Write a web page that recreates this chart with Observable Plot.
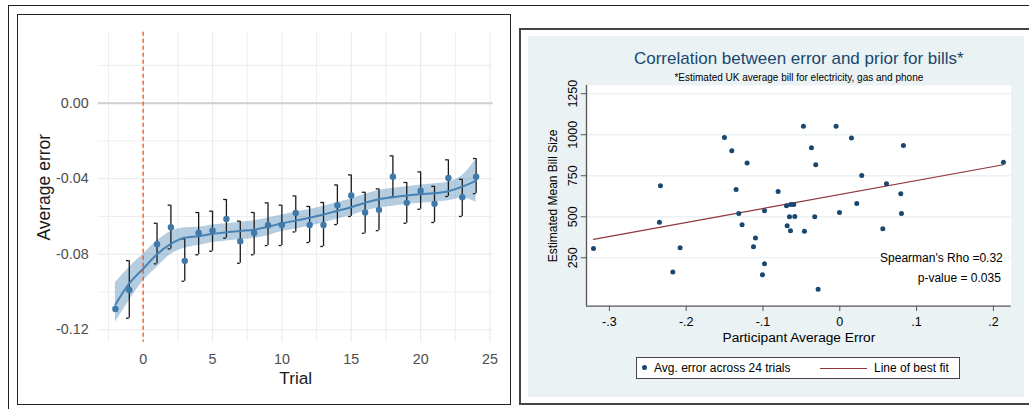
<!DOCTYPE html>
<html><head><meta charset="utf-8">
<script src="https://cdn.jsdelivr.net/npm/d3@7"></script>
<script src="https://cdn.jsdelivr.net/npm/@observablehq/plot@0.6"></script>
<style>
html,body{margin:0;padding:0;background:#fff;}
body{width:1029px;height:409px;position:relative;overflow:hidden;font-family:"Liberation Sans",Arial,sans-serif;}
.abs{position:absolute;box-sizing:border-box;}
#leftChart{left:0;top:0;}
#rightChart{left:528px;top:36px;}
#frameTop{left:8px;top:5px;width:1021px;height:1px;background:#222;}
#frameLeft{left:8px;top:5px;width:1px;height:404px;background:#222;}
#leftBox{left:17px;top:14px;width:494px;height:391px;border:1px solid #222;}
#rightBox{left:519px;top:28px;width:540px;height:377px;border:2px solid #444;}
#legend{left:636px;top:357px;width:324px;height:22px;border:1px solid #444;background:#fff;font-size:12px;color:#000;}
#legend .ldot{position:absolute;left:5px;top:7px;width:5px;height:5px;border-radius:50%;background:#1a476f;}
#legend .lt1{position:absolute;left:17px;top:0;line-height:20px;white-space:nowrap;}
#legend .lline{position:absolute;left:183px;top:10px;width:47px;height:1.2px;background:#90353b;}
#legend .lt2{position:absolute;left:237px;top:0;line-height:20px;white-space:nowrap;}
</style>
</head><body>
<div id="leftChart" class="abs"></div>
<div id="rightChart" class="abs"></div>
<div id="frameTop" class="abs"></div>
<div id="frameLeft" class="abs"></div>
<div id="leftBox" class="abs"></div>
<div id="rightBox" class="abs"></div>
<div id="legend" class="abs"><span class="ldot"></span><span class="lt1"></span><span class="lline"></span><span class="lt2"></span></div>
<script>
// ---------- Left chart data ----------
const trials = [-2,-1,1,2,3,4,5,6,7,8,9,10,11,12,13,14,15,16,17,18,19,20,21,22,23,24];
const meanError = [-0.1090,-0.0989,-0.0747,-0.0657,-0.0835,-0.0687,-0.0675,-0.0613,-0.0731,-0.0687,-0.0646,-0.0645,-0.0581,-0.0645,-0.0645,-0.0540,-0.0489,-0.0579,-0.0565,-0.0389,-0.0528,-0.0464,-0.0533,-0.0396,-0.0498,-0.0389];
const errLow  = [null,-0.1139,-0.0851,-0.0772,-0.0943,-0.0803,-0.0784,-0.0715,-0.0848,-0.0803,-0.0754,-0.0754,-0.0682,-0.0738,-0.0759,-0.0643,-0.0600,-0.0689,-0.0675,-0.0498,-0.0636,-0.0562,-0.0632,-0.0494,-0.0600,-0.0479];
const errHigh = [null,-0.0834,-0.0636,-0.0540,-0.0719,-0.0579,-0.0572,-0.0510,-0.0625,-0.0579,-0.0528,-0.0540,-0.0491,-0.0547,-0.0526,-0.0433,-0.0380,-0.0472,-0.0454,-0.0279,-0.0420,-0.0364,-0.0440,-0.0300,-0.0403,-0.0293];
const smoothT = [-2,-1,0,1,2,3,4,5,6,7,8,9,10,11,12,13,14,15,16,17,18,19,20,21,22,23,24];
const smoothMid = [-0.1067,-0.0955,-0.0877,-0.0800,-0.0745,-0.0713,-0.0705,-0.0692,-0.0684,-0.0677,-0.0670,-0.0655,-0.0636,-0.0622,-0.0607,-0.0590,-0.0570,-0.0551,-0.0527,-0.0509,-0.0498,-0.0489,-0.0482,-0.0477,-0.0466,-0.0442,-0.0410];
const smoothLo  = [-0.1160,-0.1045,-0.0942,-0.0869,-0.0800,-0.0768,-0.0754,-0.0738,-0.0730,-0.0724,-0.0717,-0.0702,-0.0680,-0.0666,-0.0652,-0.0634,-0.0614,-0.0595,-0.0571,-0.0555,-0.0546,-0.0537,-0.0530,-0.0525,-0.0517,-0.0502,-0.0525];
const smoothHi  = [-0.0950,-0.0870,-0.0800,-0.0730,-0.0680,-0.0660,-0.0657,-0.0645,-0.0638,-0.0630,-0.0623,-0.0608,-0.0592,-0.0577,-0.0563,-0.0546,-0.0526,-0.0507,-0.0483,-0.0463,-0.0450,-0.0442,-0.0434,-0.0427,-0.0417,-0.0383,-0.0295];
const leftXTicks = [0,5,10,15,20,25];
const leftXMinor = [-2.5,2.5,7.5,12.5,17.5,22.5];
const leftYTicks = [-0.12,-0.08,-0.04,0];
const leftYLabels = ["-0.12","-0.08","-0.04","0.00"];
const leftYMinor = [-0.10,-0.06,-0.02,0.02];
const leftXTitle = "Trial";
const leftYTitle = "Average error";

// ---------- Right chart data ----------
const errX = [-0.3207,-0.2335,-0.2348,-0.2174,-0.2079,-0.1502,-0.1406,-0.1207,-0.1350,-0.1315,-0.1272,-0.1098,-0.1124,-0.0981,-0.0981,-0.1007,-0.0803,-0.0694,-0.0638,-0.0599,-0.0655,-0.0586,-0.0685,-0.0642,-0.0473,-0.0460,-0.0369,-0.0313,-0.0326,-0.0282,-0.0048,-0.0004,0.0152,0.0221,0.0286,0.0560,0.0608,0.0794,0.0803,0.0829,0.2131];
const billY = [307,689,467,164,311,983,902,827,666,520,451,370,317,536,213,146,654,567,575,575,500,502,445,415,1051,412,921,817,500,59,1051,526,980,581,752,427,701,640,520,935,833];
const fitX = [-0.3207, 0.2131];
const fitY = [362, 817];
const rightXTicks = [-0.3,-0.2,-0.1,0,0.1,0.2];
const rightXLabels = ["-.3","-.2","-.1","0",".1",".2"];
const rightYTicks = [250,500,750,1000,1250];
const rightYLabels = ["250","500","750","1000","1250"];
const rightTitle = "Correlation between error and prior for bills*";
const rightSubtitle = "*Estimated UK average bill for electricity, gas and phone";
const rightXTitle = "Participant Average Error";
const rightYTitle = "Estimated Mean Bill Size";
const statLines = ["Spearman's Rho =0.32", "p-value = 0.035"];
const legendLabels = ["Avg. error across 24 trials", "Line of best fit"];

const FONT = "Liberation Sans, Arial, sans-serif";

// ---------- Build left ----------
const pts = trials.map((t,i)=>({t, m: meanError[i], lo: errLow[i], hi: errHigh[i]}));
const bars = pts.filter(d=>d.lo!=null);
const smooth = smoothT.map((t,i)=>({t, mid: smoothMid[i], lo: smoothLo[i], hi: smoothHi[i]}));
const LX = [-3.24, 25.23], LY = [-0.1266, 0.0376];

const left = Plot.plot({
  width: 520, height: 409,
  marginLeft: 97.7, marginRight: 27.3, marginTop: 31.7, marginBottom: 67.3,
  style: {background: "transparent", fontFamily: FONT, overflow: "visible"},
  x: {domain: LX},
  y: {domain: LY},
  marks: [
    Plot.ruleX(leftXMinor, {stroke: "#eeeeee", strokeWidth: 1}),
    Plot.ruleX(leftXTicks, {stroke: "#ebebeb", strokeWidth: 1.2}),
    Plot.ruleY(leftYMinor, {stroke: "#eeeeee", strokeWidth: 1}),
    Plot.ruleY(leftYTicks, {stroke: "#ebebeb", strokeWidth: 1.2}),
    Plot.ruleY([0], {stroke: "#cfcfcf", strokeWidth: 2}),
    Plot.areaY(smooth, {x: "t", y1: "lo", y2: "hi", fill: "#4682b4", fillOpacity: 0.4, curve: "monotone-x"}),
    Plot.ruleX(bars, {x: "t", y1: "lo", y2: "hi", stroke: "#1a1a1a", strokeWidth: 1.3}),
    Plot.ruleY(bars, {y: "lo", x1: d => d.t - 0.2, x2: "t", stroke: "#1a1a1a", strokeWidth: 1.3}),
    Plot.ruleY(bars, {y: "hi", x1: d => d.t - 0.2, x2: "t", stroke: "#1a1a1a", strokeWidth: 1.3}),
    Plot.line(smooth, {x: "t", y: "mid", stroke: "#4682b4", strokeWidth: 2, curve: "monotone-x"}),
    Plot.dot(pts, {x: "t", y: "m", r: 3.2, fill: "#3f79a9", stroke: null}),
    Plot.ruleX([0], {stroke: "#ff4500", strokeWidth: 1.2, strokeDasharray: "4,3"}),
    Plot.axisX({ticks: leftXTicks, tickFormat: d => String(d), tickSize: 0, tickPadding: 12, fontSize: 14.3, color: "#4d4d4d", label: null}),
    Plot.axisY({ticks: leftYTicks, tickFormat: (d, i) => leftYLabels[i], tickSize: 0, tickPadding: 9.5, fontSize: 14.3, color: "#4d4d4d", label: null}),
    Plot.text([leftXTitle], {text: d => d, frameAnchor: "bottom", dy: 36.3, lineAnchor: "middle", fontSize: 17.2, fill: "#1a1a1a"}),
    Plot.text([leftYTitle], {text: d => d, frameAnchor: "left", dx: -54, rotate: -90, textAnchor: "middle", lineAnchor: "middle", fontSize: 17.5, fill: "#1a1a1a"})
  ]
});
document.getElementById("leftChart").appendChild(left);

// ---------- Build right ----------
const scat = errX.map((x,i)=>({x, y: billY[i]}));
const fit = fitX.map((x,i)=>({x, y: fitY[i]}));
const RX = [-0.3298, 0.2232], RY = [-45, 1300];
const right = Plot.plot({
  width: 496, height: 361,
  marginLeft: 58, marginRight: 13.3, marginTop: 49, marginBottom: 91.3,
  style: {background: "#eaf2f3", fontFamily: FONT, overflow: "visible"},
  x: {domain: RX},
  y: {domain: RY},
  marks: [
    Plot.frame({fill: "#ffffff", stroke: null}),
    Plot.ruleY(rightYTicks, {stroke: "#eaf2f3", strokeWidth: 1.3}),
    Plot.ruleX([RX[0]], {stroke: "#555", strokeWidth: 1.3}),
    Plot.ruleY([RY[0]], {stroke: "#555", strokeWidth: 1.3}),
    Plot.axisY({ticks: rightYTicks, tickFormat: () => "", tickSize: 5.3, stroke: "#555", label: null}),
    Plot.axisX({ticks: rightXTicks, tickFormat: () => "", tickSize: 5.3, stroke: "#555", label: null}),
    Plot.text(rightYTicks, {y: d => d, text: (d, i) => rightYLabels[i], frameAnchor: "left", dx: -13.3, rotate: -90, textAnchor: "middle", lineAnchor: "middle", fontSize: 12.5, fill: "#000"}),
    Plot.text(rightXTicks, {x: d => d, text: (d, i) => rightXLabels[i], frameAnchor: "bottom", dy: 16, textAnchor: "middle", lineAnchor: "middle", fontSize: 12.5, fill: "#000"}),
    Plot.line(fit, {x: "x", y: "y", stroke: "#90353b", strokeWidth: 1.2}),
    Plot.dot(scat, {x: "x", y: "y", r: 2.5, fill: "#1a476f", stroke: null}),
    Plot.text([statLines[0]], {text: d => d, frameAnchor: "bottom-right", dx: -8.4, dy: -48.4, textAnchor: "end", lineAnchor: "middle", fontSize: 12, fill: "#000"}),
    Plot.text([statLines[1]], {text: d => d, frameAnchor: "bottom-right", dx: -10.4, dy: -28, textAnchor: "end", lineAnchor: "middle", fontSize: 12, fill: "#000"}),
    Plot.text([rightTitle], {text: d => d, frameAnchor: "top", dy: -26.5, textAnchor: "middle", lineAnchor: "middle", fontSize: 17, fill: "#1a476f"}),
    Plot.text([rightSubtitle], {text: d => d, frameAnchor: "top", dy: -7.5, textAnchor: "middle", lineAnchor: "middle", fontSize: 10, fill: "#000"}),
    Plot.text([rightXTitle], {text: d => d, frameAnchor: "bottom", dy: 31.6, textAnchor: "middle", lineAnchor: "middle", fontSize: 13.7, fill: "#000"}),
    Plot.text([rightYTitle], {text: d => d, frameAnchor: "left", dx: -33.7, rotate: -90, textAnchor: "middle", lineAnchor: "middle", fontSize: 12, fill: "#000"})
  ]
});
document.getElementById("rightChart").appendChild(right);

document.querySelector("#legend .lt1").textContent = legendLabels[0];
document.querySelector("#legend .lt2").textContent = legendLabels[1];
</script>
</body></html>
